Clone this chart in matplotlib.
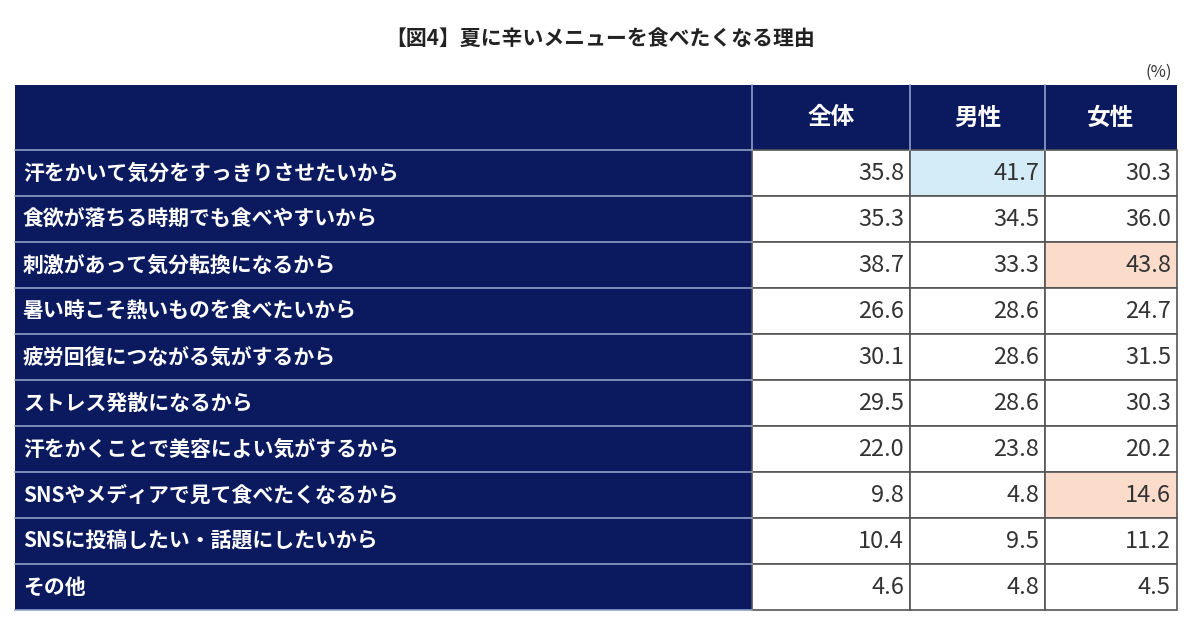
import matplotlib
matplotlib.use("Agg")
import matplotlib.pyplot as plt
from matplotlib.patches import Rectangle

plt.rcParams['font.family'] = ['Noto Sans CJK JP', 'DejaVu Sans']

title = "【図4】夏に辛いメニューを食べたくなる理由"
columns = ["全体", "男性", "女性"]
reasons = ["汗をかいて気分をすっきりさせたいから", "食欲が落ちる時期でも食べやすいから",
           "刺激があって気分転換になるから", "暑い時こそ熱いものを食べたいから",
           "疲労回復につながる気がするから", "ストレス発散になるから",
           "汗をかくことで美容によい気がするから", "SNSやメディアで見て食べたくなるから",
           "SNSに投稿したい・話題にしたいから", "その他"]
total = [35.8, 35.3, 38.7, 26.6, 30.1, 29.5, 22.0, 9.8, 10.4, 4.6]
male = [41.7, 34.5, 33.3, 28.6, 28.6, 28.6, 23.8, 4.8, 9.5, 4.8]
female = [30.3, 36.0, 43.8, 24.7, 31.5, 30.3, 20.2, 14.6, 11.2, 4.5]
highlight = {(0, 1): "#d4ecf7", (2, 2): "#fbdccb", (7, 2): "#fbdccb"}

NAVY = "#0b1a5e"
fig = plt.figure(figsize=(12, 6.24), dpi=100)
ax = fig.add_axes([0, 0, 1, 1])
ax.set_xlim(0, 1200); ax.set_ylim(624, 0); ax.axis("off")

xs = [15, 752, 910, 1045, 1177]
top, hh, rh = 85, 65, 46
ax.text(600, 38, title, ha="center", va="center", fontsize=15, fontweight="bold", color="#222")
ax.text(1172, 72, "(%)", ha="right", va="center", fontsize=12, color="#333")

# header
ax.add_patch(Rectangle((xs[0], top), xs[-1]-xs[0], hh, color=NAVY, lw=0))
for i, c in enumerate(columns):
    ax.text((xs[i+1]+xs[i+2])/2, top+hh/2, c, ha="center", va="center",
            fontsize=17, fontweight="bold", color="white")
for x in xs[1:-1]:
    ax.plot([x, x], [top, top+hh], color="#8fa0c8", lw=1.2)

y0 = top + hh
vals = [total, male, female]
for r, lab in enumerate(reasons):
    y = y0 + r*rh
    ax.add_patch(Rectangle((xs[0], y), xs[1]-xs[0], rh, color=NAVY, lw=0))
    ax.text(xs[0]+8, y+rh/2, lab, ha="left", va="center", fontsize=15,
            fontweight="bold", color="white")
    for c in range(3):
        fc = highlight.get((r, c), "white")
        ax.add_patch(Rectangle((xs[c+1], y), xs[c+2]-xs[c+1], rh, facecolor=fc,
                               edgecolor="#555", lw=1.2))
        ax.text(xs[c+2]-6, y+rh/2, f"{vals[c][r]:.1f}", ha="right", va="center",
                fontsize=17, color="#333")
    ax.plot([xs[0], xs[1]], [y, y], color="#8fa0c8", lw=1.2)
ax.plot([xs[0], xs[1]], [y0+len(reasons)*rh]*2, color="#8fa0c8", lw=1.2)

fig.savefig("out.png", dpi=100)
